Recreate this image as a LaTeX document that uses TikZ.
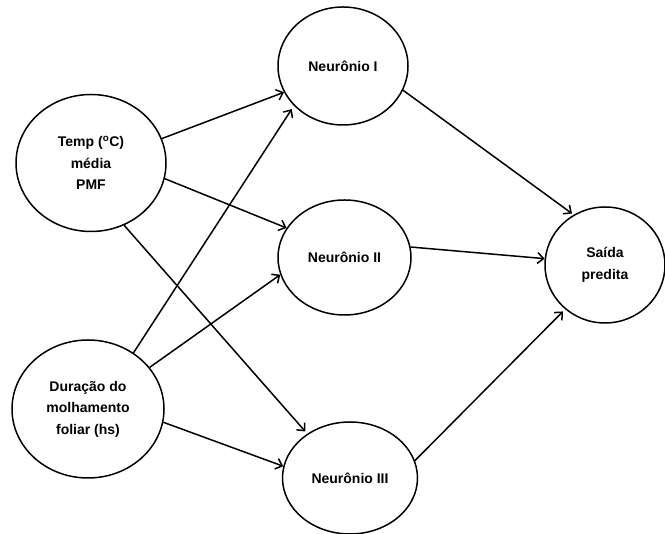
\documentclass[tikz,border=0pt]{standalone}
\usepackage{fontspec}
\setmainfont{Liberation Sans}
\usetikzlibrary{arrows.meta, shapes.geometric}

\begin{document}
\begin{tikzpicture}[x=1pt, y=1pt,
      neuron/.style={ellipse, draw, line width=1.5pt, align=center, inner sep=0pt,
         font=\fontsize{14}{21.5}\selectfont\bfseries},
      link/.style={-{Straight Barb[length=6pt, width=11pt]}, line width=1.5pt}]
            \useasboundingbox (0,0) rectangle (665,534);
            \node[neuron, minimum width=150, minimum height=137] (temp) at (91,371)
               {Temp (\textsuperscript{o}C)\\média\\PMF};
            \node[neuron, minimum width=152, minimum height=138] (dur) at (88,125)
               {Duração do\\molhamento\\foliar (hs)};
            \node[neuron, minimum width=130, minimum height=118] (n1) at (343,468) {Neurônio I};
            \node[neuron, minimum width=133, minimum height=115] (n2) at (344.5,276.5) {Neurônio II};
            \node[neuron, minimum width=135, minimum height=112] (n3) at (350,56) {Neurônio III};
            \node[neuron, minimum width=120, minimum height=116] (out) at (605,269) {Saída\\predita};
            \draw[link] (temp.19) -- (n1.204);
            \draw[link] (temp.348) -- (n2.153);
            \draw[link, shorten >=3pt] (temp.298) -- (n3.134);
            \draw[link, shorten >=4pt] (dur.51) -- (n1.219);
            \draw[link] (dur.34) -- (n2.195);
            \draw[link] (dur.350) -- (n3.170);
            \draw[link, shorten >=2pt] (n1.338) -- (out.122);
            \draw[link] (n2.9) -- (out.174);
            \draw[link, shorten >=3pt] (n3.15) -- (out.228);
         \end{tikzpicture}
\end{document}
